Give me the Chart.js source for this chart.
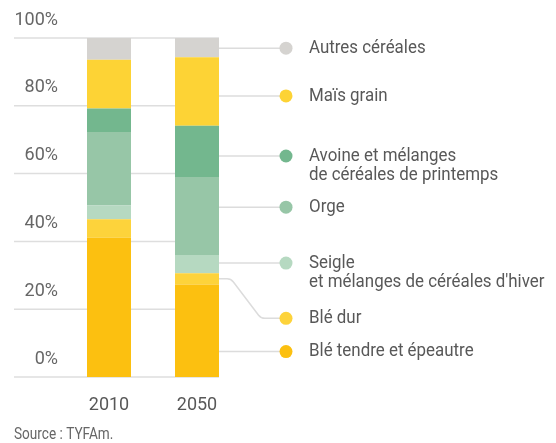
<!DOCTYPE html>
<html>
<head>
<meta charset="utf-8">
<script src="https://cdn.jsdelivr.net/npm/chart.js@4/dist/chart.umd.min.js"></script>
<style>
  html, body { margin: 0; padding: 0; background: #fff; }
  #wrap { width: 556px; height: 443px; }
</style>
</head>
<body>
<div id="wrap"><canvas id="c" width="556" height="443"></canvas></div>
<script>
// data (share of cereal area, %)
const years = ['2010', '2050'];
const bleTendre = [41.1, 27.3];
const bleDur = [5.4, 3.3];
const seigle = [4.1, 5.4];
const orge = [21.7, 23.0];
const avoine = [6.9, 15.1];
const mais = [14.4, 20.2];
const autres = [6.4, 5.7];
const yTicks = [0, 20, 40, 60, 80, 100];

const seriesLabels = [
    ['Blé tendre et épeautre'],
    ['Blé dur'],
    ['Seigle', 'et mélanges de céréales d\'hiver'],
    ['Orge'],
    ['Avoine et mélanges', 'de céréales de printemps'],
    ['Maïs grain'],
    ['Autres céréales']
];
const seriesValues = [bleTendre, bleDur, seigle, orge, avoine, mais, autres];
const seriesColors = ['#fcc010', '#fdd33b', '#b6d9c1', '#97c6a7', '#73b78e', '#fdd335', '#d5d3d0'];

// where each legend entry sits, in axis units
const legendAt = [7.5, 17.3, 33.6, 50.1, 65.2, 82.9, 97.0];
const FONT = "Roboto, 'Liberation Sans', sans-serif";

// the original type is a condensed face, so squeeze the text a bit
function narrowText(ctx, text, x, y, squeeze) {
    const w = ctx.measureText(text).width;
    ctx.fillText(text, x, y, w * squeeze);
}

const sidePlugin = {
    id: 'side',
    beforeDatasetsDraw(chart) {
        const ctx = chart.ctx;
        const y = chart.scales.y;
        const last = chart.getDatasetMeta(0).data[1];
        const right = last.x + last.width / 2;
        ctx.save();
        ctx.strokeStyle = '#dedede';
        ctx.lineWidth = 1.5;
        y.ticks.forEach((t, i) => {
            const py = y.getPixelForTick(i);
            ctx.beginPath();
            ctx.moveTo(14, py);
            ctx.lineTo(right, py);
            ctx.stroke();
        });
        ctx.restore();
    },
    afterDatasetsDraw(chart) {
        const ctx = chart.ctx;
        const y = chart.scales.y;
        const dotX = 286;
        const textX = 309;
        ctx.save();
        seriesLabels.forEach((lines, i) => {
            const el = chart.getDatasetMeta(i).data[1];
            const right = el.x + el.width / 2;
            const ly = y.getPixelForValue(legendAt[i]);
            const top = Math.min(el.y, el.base), bottom = Math.max(el.y, el.base);

            ctx.strokeStyle = '#dcdcdc';
            ctx.lineWidth = 1.5;
            ctx.beginPath();
            if (ly >= top && ly <= bottom) {
                ctx.moveTo(right, ly);
            } else {
                const mid = (top + bottom) / 2;
                ctx.moveTo(right, mid);
                ctx.arcTo(right + 12, mid, right + 42, ly, 8);
                ctx.arcTo(right + 42, ly, dotX, ly, 8);
            }
            ctx.lineTo(dotX, ly);
            ctx.stroke();

            ctx.fillStyle = seriesColors[i];
            ctx.beginPath();
            ctx.arc(dotX, ly, 6.5, 0, Math.PI * 2);
            ctx.fill();

            ctx.fillStyle = '#585858';
            ctx.font = '19px ' + FONT;
            ctx.textBaseline = 'middle';
            ctx.textAlign = 'left';
            lines.forEach((line, k) => narrowText(ctx, line, textX, ly + k * 19.5, 0.89));
        });

        ctx.fillStyle = '#666';
        ctx.font = '16px ' + FONT;
        ctx.textBaseline = 'middle';
        narrowText(ctx, 'Source : TYFAm.', 14, 435, 0.85);
        ctx.restore();
    }
};

Chart.defaults.font.family = FONT;

new Chart(document.getElementById('c'), {
    type: 'bar',
    data: {
        labels: years,
        datasets: seriesValues.map((vals, i) => ({
            label: seriesLabels[i].join(' '),
            data: vals,
            backgroundColor: seriesColors[i],
            borderWidth: 0,
            barPercentage: 0.5,
            categoryPercentage: 1.0
        }))
    },
    options: {
        responsive: false,
        animation: false,
        devicePixelRatio: 1,
        layout: { padding: { left: 0, right: 315, top: 38, bottom: 26 } },
        plugins: { legend: { display: false }, tooltip: { enabled: false } },
        scales: {
            x: {
                stacked: true,
                grid: { display: false, drawTicks: false },
                border: { display: false },
                ticks: { color: '#585858', font: { size: 18 }, padding: 18 },
                afterFit(scale) { scale.height = 40; }
            },
            y: {
                stacked: true,
                min: 0,
                max: 100,
                afterBuildTicks(scale) { scale.ticks = yTicks.map(v => ({ value: v })); },
                grid: { display: false, drawTicks: false },
                border: { display: false },
                ticks: {
                    color: '#666',
                    font: { size: 18 },
                    padding: 7,
                    labelOffset: -18,
                    callback: v => v + '%'
                },
                afterFit(scale) { scale.width = 65; }
            }
        }
    },
    plugins: [sidePlugin]
});
</script>
</body>
</html>
